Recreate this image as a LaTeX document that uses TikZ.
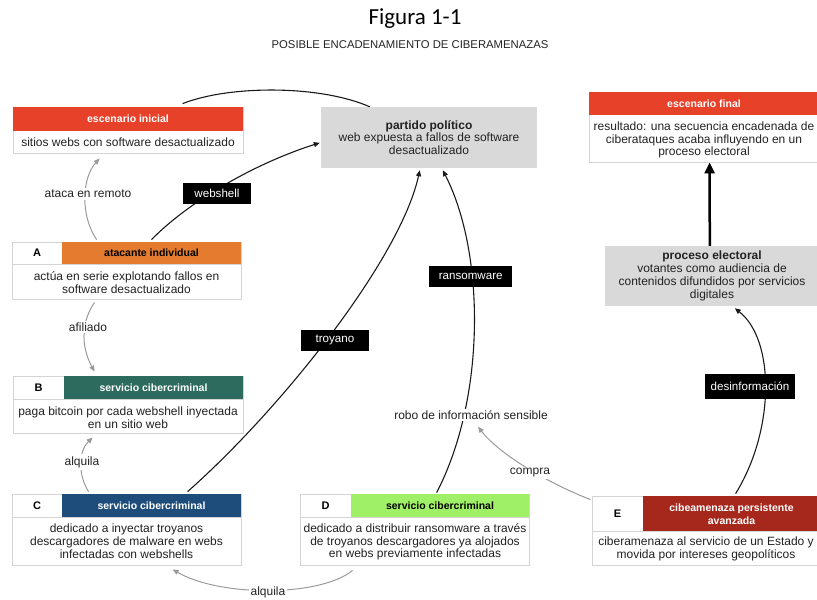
\documentclass[tikz,border=0pt]{standalone}
\usepackage{fontspec}
\setmainfont{Liberation Sans}
\newfontfamily\titlefont{Carlito}
\usetikzlibrary{arrows.meta,fit,calc}
\pgfdeclarelayer{bg}
\pgfsetlayers{bg,main}
\definecolor{redh}{HTML}{E8412A}
\definecolor{orangeA}{HTML}{E47B2F}
\definecolor{tealB}{HTML}{2D6B5F}
\definecolor{blueC}{HTML}{1E4D7B}
\definecolor{greenD}{HTML}{9FF067}
\definecolor{redE}{HTML}{A6281C}
\definecolor{grayfill}{HTML}{D9D9D9}
\definecolor{bordc}{HTML}{D4D4D4}
\definecolor{txt}{HTML}{222222}
\definecolor{gryline}{HTML}{9A9A9A}
\definecolor{blkline}{HTML}{1A1A1A}
\begin{document}
\begin{tikzpicture}[x=1pt,y=-1pt,
  card/.style={draw=bordc, line width=0.8pt, fill=white, inner sep=0pt},
  gbox/.style={fill=grayfill, inner sep=0pt, align=center, text=txt,
    font=\fontsize{12}{12.8}\selectfont},
  body/.style={font=\fontsize{12}{12.8}\selectfont, align=center, text=txt, inner sep=0pt},
  hdr/.style={font=\bfseries\fontsize{10.5}{13}\selectfont, text=white, align=center, inner sep=0pt},
  letter/.style={font=\bfseries\fontsize{11}{13}\selectfont, text=black, inner sep=0pt},
  lbl/.style={font=\fontsize{12}{13}\selectfont, text=txt, fill=white, inner sep=2pt},
  tag/.style={font=\fontsize{11.6}{13}\selectfont, text=white, fill=black, inner sep=0pt, minimum height=21pt},
  blk/.style={draw=blkline, line width=1.1pt, -{Triangle[length=6pt,width=5pt]}},
  gry/.style={draw=gryline, line width=1pt, -{Triangle[length=6pt,width=5pt]}},
]
\useasboundingbox (0,0) rectangle (817,600);

% title
\node[font=\titlefont\fontsize{23}{26}\selectfont, text=black, inner sep=0pt] (title) at (415,19) {Figura 1-1};
\node[font=\fontsize{11.3}{13}\selectfont, text=txt, inner sep=0pt] (subtitle) at (410,45) {POSIBLE ENCADENAMIENTO DE CIBERAMENAZAS};

% escenario inicial
\node[card, fit={(13,107)(243,153)}] (ei) {};
\fill[redh] (13,107) rectangle (243,131);
\node[hdr] (eih) at (128,119) {escenario inicial};
\node[body] (eib) at (128,142) {sitios webs con software desactualizado};

% A
\node[card, fit={(12,242)(241,299)}] (A) {};
\fill[orangeA] (62,242) rectangle (241,264);
\draw[bordc, line width=0.8pt] (12,264) -- (241,264);
\node[letter] (Al) at (37,253) {A};
\node[hdr, text=black] (Ah) at (151.5,253) {atacante individual};
\node[body] (Ab) at (126.5,282.5) {actúa en serie explotando fallos en\\software desactualizado};

% B
\node[card, fit={(13,376)(243,433)}] (B) {};
\fill[tealB] (64,376) rectangle (243,399);
\draw[bordc, line width=0.8pt] (13,399) -- (243,399);
\node[letter] (Bl) at (38.5,387.5) {B};
\node[hdr] (Bh) at (153.5,387.5) {servicio cibercriminal};
\node[body] (Bb) at (128,417.5) {paga bitcoin por cada webshell inyectada\\en un sitio web};

% C
\node[card, fit={(12,494)(241,565)}] (C) {};
\fill[blueC] (62,494) rectangle (241,517);
\draw[bordc, line width=0.8pt] (12,517) -- (241,517);
\node[letter] (Cl) at (37,505.5) {C};
\node[hdr] (Ch) at (151.5,505.5) {servicio cibercriminal};
\node[body] (Cb) at (126.5,541.5) {dedicado a inyectar troyanos\\descargadores de malware en webs\\infectadas con webshells};

% D
\node[card, fit={(300,494)(529,565)}] (D) {};
\fill[greenD] (351,494) rectangle (529,517);
\draw[bordc, line width=0.8pt] (300,517) -- (529,517);
\node[letter] (Dl) at (325.5,505.5) {D};
\node[hdr, text=black] (Dh) at (440,505.5) {servicio cibercriminal};
\node[body] (Db) at (415,542) {dedicado a distribuir ransomware a través\\de troyanos descargadores ya alojados\\en webs previamente infectadas};

% E
\node[card, fit={(592,496)(820,565)}] (E) {};
\fill[redE] (643,496) rectangle (820,531);
\draw[bordc, line width=0.8pt] (592,531) -- (820,531);
\node[letter] (El) at (617.5,513.5) {E};
\node[hdr] (Eh) at (731.5,514.5) {cibeamenaza persistente\\avanzada};
\node[body] (Eb) at (706,548.5) {ciberamenaza al servicio de un Estado y\\movida por intereses geopolíticos};

% escenario final
\node[card, fit={(589,92)(820,162)}] (ef) {};
\fill[redh] (589,92) rectangle (820,115);
\node[hdr] (efh) at (704,103.5) {escenario final};
\node[body] (efb) at (704,140) {resultado: una secuencia encadenada de\\ciberataques acaba influyendo en un\\proceso electoral};

% partido politico
\node[gbox, minimum width=216pt, minimum height=61pt] (pp) at (429,137.5)
  {\textbf{partido político}\\web expuesta a fallos de software\\desactualizado};

% proceso electoral
\node[gbox, minimum width=214pt, minimum height=60pt] (pe) at (712,276)
  {\textbf{proceso electoral}\\votantes como audiencia de\\contenidos difundidos por servicios\\digitales};

% labels
\node[lbl] (lataca) at (88,194) {ataca en remoto};
\node[lbl] (lafil) at (88,327) {afiliado};
\node[lbl] (lalq1) at (82,462) {alquila};
\node[lbl] (lalq2) at (268,592) {alquila};
\node[lbl] (robo) at (471,415) {robo de información sensible};
\node[lbl] (lcompra) at (530,473) {compra};
\node[tag, minimum width=68pt] (lweb) at (217,193.5) {webshell};
\node[tag, minimum width=68.5pt] (ltro) at (335,340) {troyano};
\node[tag, minimum width=83pt] (lran) at (470.7,276.5) {ransomware};
\node[tag, minimum width=90pt, minimum height=24.7pt] (ldes) at (750,386.7) {desinformación};

\begin{pgfonlayer}{bg}
% escenario inicial -> partido (plain line)
\draw[blkline, line width=1.1pt] ($(ei.north west)+(170,-3)$) .. controls (230,85) and (320,85) .. ($(pp.north west)+(49,0)$);
% ataca en remoto
\draw[gry] ($(A.north west)+(85,-2)$) .. controls (80,215) and (82,178) .. ($(ei.south west)+(87,5)$);
% afiliado
\draw[gry] ($(A.south west)+(83,3)$) .. controls (82,320) and (80,345) .. ($(B.north west)+(82,-4)$);
% alquila C -> B
\draw[gry] ($(C.north west)+(77,-2)$) .. controls (78,475) and (78,452) .. ($(B.south west)+(80,4)$);
% alquila D -> C
\draw[gry] ($(D.south west)+(53,5)$) .. controls (320,597) and (220,597) .. ($(C.south west)+(161,4)$);
% webshell
\draw[blk] ($(A.north west)+(140,-2)$) .. controls (185,205) and (250,165) .. ($(pp.north west)+(-1,36)$);
% troyano
\draw[blk] ($(C.north west)+(176,-2)$) .. controls (280,410) and (400,260) .. ($(pp.south west)+(99,2)$);
% ransomware
\draw[blk] ($(D.north west)+(137,-1)$) .. controls (485,400) and (486,255) .. ($(pp.south west)+(122,2)$);
% compra
\draw[gry] ($(E.north west)+(-1,4)$) .. controls (550,484) and (500,455) .. ($(robo.south)+(7,5)$);
% desinformacion
\draw[blk] ($(E.north west)+(144,-2)$) .. controls (775,430) and (775,340) .. ($(pe.south west)+(130,2)$);
% proceso electoral -> escenario final
\draw[draw=black, line width=2.5pt, -{Triangle[length=11pt,width=10pt]}] ($(pe.north west)+(105,0)$) -- ($(ef.south west)+(121,0)$);
\end{pgfonlayer}
\end{tikzpicture}
\end{document}
